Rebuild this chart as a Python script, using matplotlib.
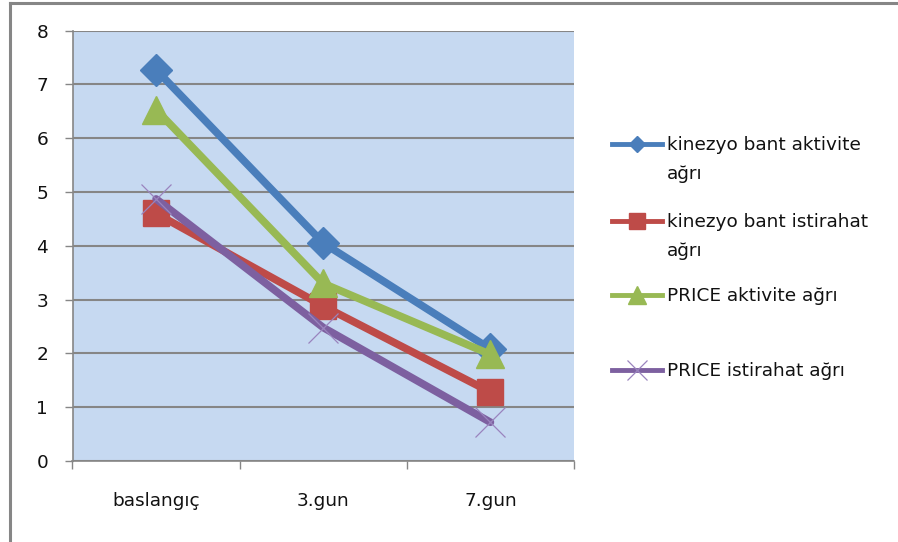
import matplotlib
matplotlib.use("Agg")
import matplotlib.pyplot as plt
from matplotlib.lines import Line2D

plt.rcParams['font.family'] = ['DejaVu Sans']

categories = ["baslangıç", "3.gun", "7.gun"]
kb_aktivite = [7.27, 4.05, 2.08]
kb_istirahat = [4.6, 2.88, 1.28]
price_aktivite = [6.53, 3.3, 1.98]
price_istirahat = [4.87, 2.48, 0.72]
y_ticks = [0, 1, 2, 3, 4, 5, 6, 7, 8]

labels = ["kinezyo bant aktivite\nağrı", "kinezyo bant istirahat\nağrı",
          "PRICE aktivite ağrı", "PRICE istirahat ağrı"]
colors = ["#4A7EBB", "#BE4B48", "#98B954", "#7D60A0"]
series = [kb_aktivite, kb_istirahat, price_aktivite, price_istirahat]

W, H = 898, 542
fs = 13.3
fig = plt.figure(figsize=(W / 100, H / 100), dpi=100)
ax = fig.add_axes([72.5 / W, 1 - 461 / H, (574 - 72.5) / W, (461 - 30.5) / H])
ax.set_facecolor("#C6D9F1")

x = list(range(len(categories)))
grid_c = "#868686"

ax.plot(x, kb_aktivite, color=colors[0], lw=5.5, marker="D", ms=16, zorder=3)
ax.plot(x, kb_istirahat, color=colors[1], lw=5.5, marker="s", ms=19, zorder=3)
ax.plot(x, price_aktivite, color=colors[2], lw=5.5, marker="^", ms=20, zorder=3)
ax.plot(x, price_istirahat, color=colors[3], lw=5.5, zorder=3,
        solid_capstyle="round")
ax.plot(x, price_istirahat, ls="none", marker="x", ms=21, mew=0.9,
        color="#9A84BE", zorder=4)

ax.set_xlim(-0.5, 2.5)
ax.set_ylim(0, 8)
ax.set_yticks(y_ticks)
ax.set_xticks(x)
ax.set_xticklabels(categories)
ax.set_xticks([-0.5, 0.5, 1.5, 2.5], minor=True)
ax.tick_params(axis="x", which="major", length=0, pad=22.5, labelsize=fs, colors="#111111")
ax.tick_params(axis="x", which="minor", length=6, width=1, color=grid_c, direction="out")
ax.tick_params(axis="y", length=6, width=1, color=grid_c, pad=11.5, labelsize=fs,
               labelcolor="#111111")
ax.grid(axis="y", color=grid_c, lw=1.5, zorder=1)
ax.set_axisbelow(True)
for side in ["top", "right"]:
    ax.spines[side].set_visible(False)
for side in ["left", "bottom"]:
    ax.spines[side].set_color(grid_c)
    ax.spines[side].set_linewidth(1.2)

# outer chart border (left and top only visible)
fig.add_artist(Line2D([9.5 / W, 9.5 / W], [0, 1 - 3 / H], transform=fig.transFigure,
                      color=grid_c, lw=2.2))
fig.add_artist(Line2D([9.5 / W, 1], [1 - 3 / H, 1 - 3 / H], transform=fig.transFigure,
                      color=grid_c, lw=2.2))

# legend, drawn by hand to keep Excel-like spacing
leg_y = [144, 221, 295, 370]
markers = ["D", "s", "^", "x"]
msizes = [8, 12, 13, 14]
for i, lab in enumerate(labels):
    yf = 1 - leg_y[i] / H
    fig.add_artist(Line2D([612 / W, 662 / W], [yf, yf], transform=fig.transFigure,
                          color=colors[i], lw=3.5))
    mc = "#9A84BE" if markers[i] == "x" else colors[i]
    fig.add_artist(Line2D([637 / W], [yf], transform=fig.transFigure, ls="none",
                          marker=markers[i], ms=msizes[i], color=mc,
                          mew=0.9 if markers[i] == "x" else 1))
    for j, line in enumerate(lab.split("\n")):
        fig.text(667 / W, 1 - (leg_y[i] + 1 + 29 * j) / H, line, fontsize=fs,
                 va="center", ha="left", color="#111111")

fig.savefig("out.png", dpi=100, facecolor="white")
